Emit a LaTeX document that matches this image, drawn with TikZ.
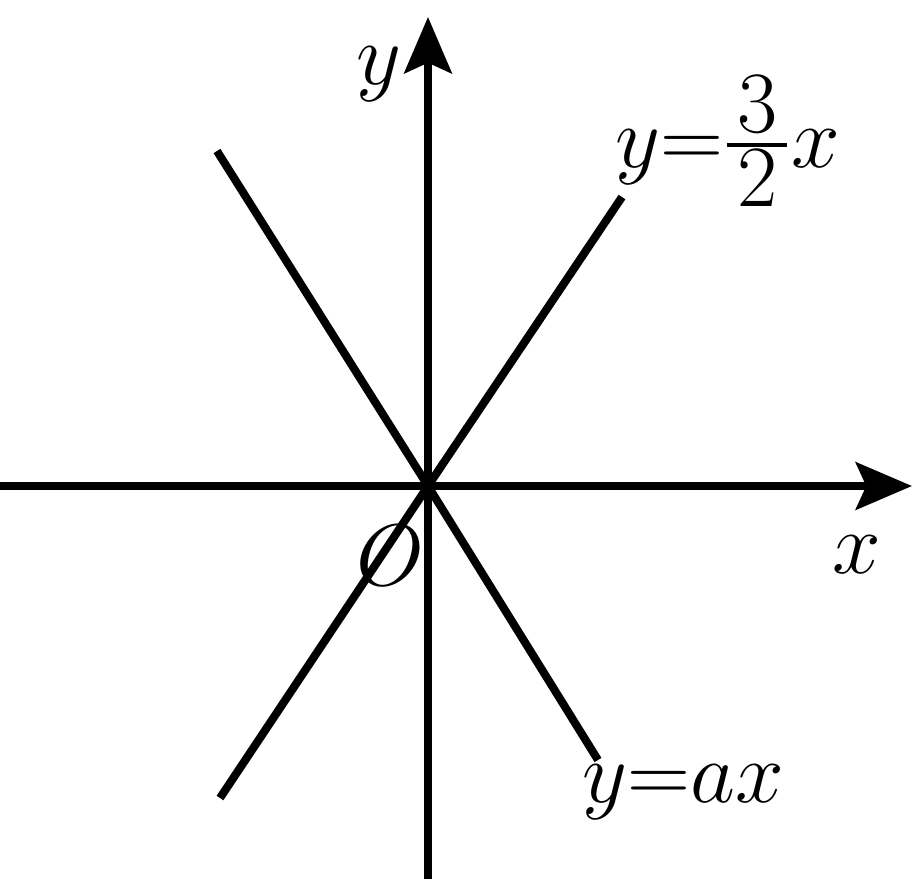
\documentclass[tikz,border=0pt]{standalone}
\usepackage{amsmath, amssymb}
\usetikzlibrary{arrows.meta}

\begin{document}
\begin{tikzpicture}[>={Stealth[length=16pt, width=13.5pt, inset=3pt]},
	asse/.style={line width=2.2pt, ->},
	retta/.style={line width=2.3pt},
	etasse/.style={anchor=base, font=\fontsize{30}{36}\selectfont},
	etretta/.style={anchor=base, font=\fontsize{24}{29}\selectfont}]
	%%%	Help Lines
%	\draw [thin, help lines] (-4,-4) grid (5,5);
	\useasboundingbox (-4.28,-3.93) rectangle (4.86,4.86);
	%%%	Disegno
	\coordinate (O) at (0,0);
	% Assi
	\draw[asse] (-4.28,0) -- (4.84,0);
	\draw[asse] (0,-3.93) -- (0,4.69);
	\node[etasse] (lx) at (4.285,-0.87) {$x$};
	\node[etasse] (ly) at (-0.49,4.02) {$y$};
	\node[etasse] (lo) at (-0.38,-0.99) {$O$};
	
	% Rette
	\draw[retta] (-2.08,-3.12) -- (O) -- (1.94,2.89);
	\draw[retta] (-2.11,3.35) -- (O) -- (1.70,-2.74);
	\node[etretta] (r1) at (2.995,3.19)
		{$y{=}\genfrac{}{}{}{1}{\textstyle\mkern2mu 3\mkern2mu}{\textstyle\mkern2mu 2\mkern2mu}x$};
	\node[etretta] (r2) at (2.55,-3.16) {$y{=}ax$};
	
\end{tikzpicture}
\end{document}
